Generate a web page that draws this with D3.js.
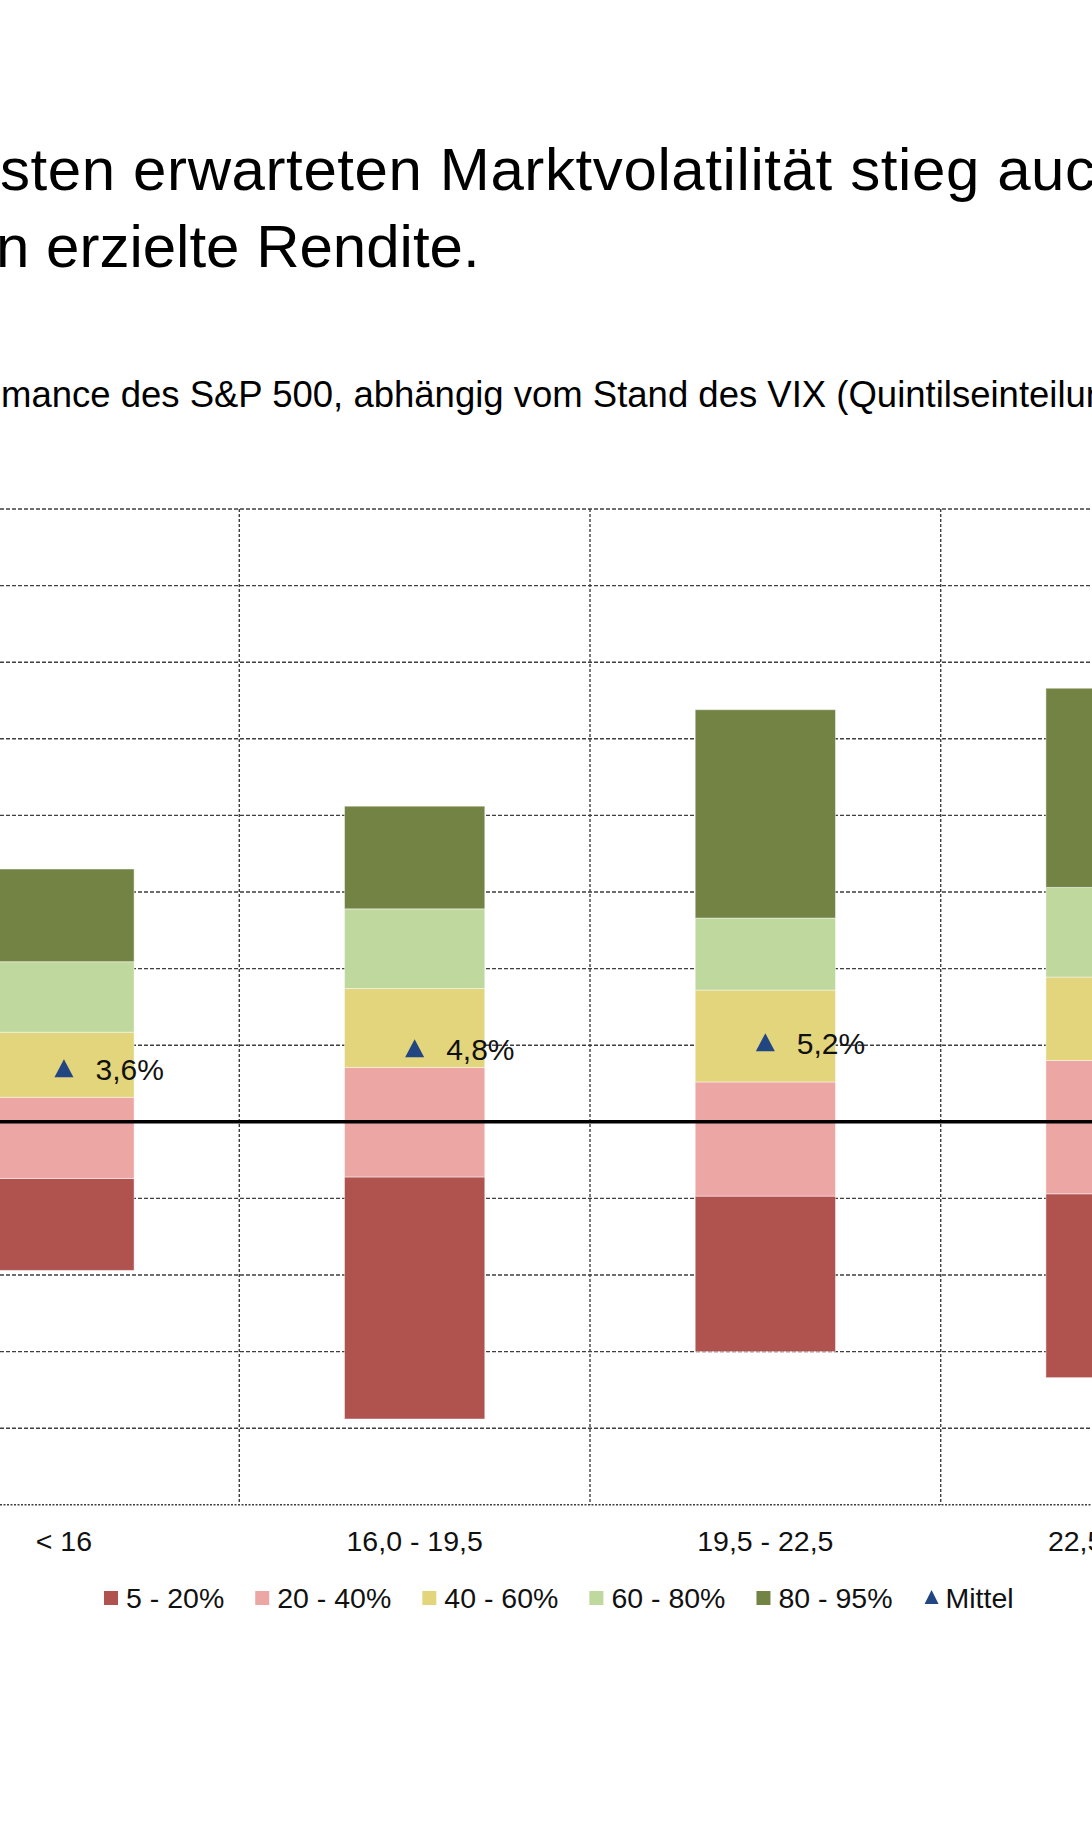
<!DOCTYPE html>
<html lang="de">
<head>
<meta charset="utf-8">
<title>S&amp;P 500 und VIX</title>
<script src="https://cdnjs.cloudflare.com/ajax/libs/d3/7.8.5/d3.min.js"></script>
<style>
  html, body { margin: 0; padding: 0; background: #fff; }
  svg { display: block; font-family: "Helvetica Neue", "Liberation Sans", Arial, sans-serif; }
</style>
</head>
<body>
<div id="chart"></div>
<script>
// VIX-Klassen (Quintile)
const categories = ["< 16", "16,0 - 19,5", "19,5 - 22,5", "22,5 - 27,0"];

// Perzentilgrenzen der Rendite in % je Klasse
const p5  = [-9.7, -19.4, -15.0, -16.7];
const p20 = [-3.7, -3.6, -4.85, -4.7];
const p40 = [1.6, 3.55, 2.6, 4.0];
const p60 = [5.85, 8.7, 8.6, 9.45];
const p80 = [10.45, 13.9, 13.3, 15.3];
const p95 = [16.5, 20.6, 26.9, 28.3];

// Mittelwert je Klasse
const means = [3.5, 4.8, 5.2, 5.9];
const meanLabels = ["3,6%", "4,8%", "5,2%", "5,9%"];

const bandLabels = ["5 - 20%", "20 - 40%", "40 - 60%", "60 - 80%", "80 - 95%"];
const bandColors = ["#B0524E", "#ECA6A3", "#E3D57C", "#BED89E", "#738344"];

const yTicks = [-25, -20, -15, -10, -5, 0, 5, 10, 15, 20, 25, 30, 35, 40];

const titleLines = ["sten erwarteten Marktvolatilität stieg auch", "n erzielte Rendite."];
const subtitle = "mance des S&P 500, abhängig vom Stand des VIX (Quintilseinteilung)";

const width = 1092, height = 1821;

const svg = d3.select("#chart").append("svg")
    .attr("width", width)
    .attr("height", height);

// Skalen (Plotbereich ragt links und rechts über den Ausschnitt hinaus)
const step = 350.7;
const x = d3.scaleBand()
    .domain(categories)
    .range([239.3 - step, 239.3 + (categories.length - 1) * step])
    .padding(0);
const barW = x.bandwidth() * 0.4;

const y = d3.scaleLinear()
    .domain([-25, 40])
    .range([1504.8, 509]);

// Titel
svg.append("g").selectAll("text")
    .data(titleLines)
    .join("text")
    .attr("x", (d, i) => i === 0 ? 0 : -4)
    .attr("y", (d, i) => 190 + i * 77)
    .attr("font-size", "60px")
    .attr("letter-spacing", (d, i) => i === 0 ? "0.6px" : "0px")
    .attr("fill", "#000")
    .text(d => d);

svg.append("text")
    .attr("x", 1)
    .attr("y", 406.5)
    .attr("font-size", "36.5px")
    .attr("fill", "#000")
    .text(subtitle);

// Horizontale Gitterlinien
svg.append("g")
    .selectAll("line")
    .data(yTicks.filter(t => t !== 0))
    .join("line")
    .attr("x1", 0)
    .attr("x2", width)
    .attr("y1", d => y(d))
    .attr("y2", d => y(d))
    .attr("stroke", "#3f3f3f")
    .attr("stroke-width", 1.4)
    .attr("stroke-dasharray", d => d === -25 ? "2,1.5" : "4,2");

// Vertikale Gitterlinien an den Klassengrenzen
svg.append("g")
    .selectAll("line")
    .data(categories.slice(1))
    .join("line")
    .attr("x1", d => x(d))
    .attr("x2", d => x(d))
    .attr("y1", y(40))
    .attr("y2", y(-25))
    .attr("stroke", "#3f3f3f")
    .attr("stroke-width", 1.4)
    .attr("stroke-dasharray", "3,2");

// Gestapelte Spannen
const bounds = [p5, p20, p40, p60, p80, p95];
const segments = [];
categories.forEach((c, i) => {
    for (let k = 0; k < bandLabels.length; k++) {
        segments.push({ cat: c, k, lo: bounds[k][i], hi: bounds[k + 1][i] });
    }
});

svg.append("g")
    .selectAll("rect")
    .data(segments)
    .join("rect")
    .attr("x", d => x(d.cat) + (x.bandwidth() - barW) / 2)
    .attr("width", barW)
    .attr("y", d => y(d.hi))
    .attr("height", d => y(d.lo) - y(d.hi))
    .attr("fill", d => bandColors[d.k])
    .attr("stroke", "rgba(255,255,255,0.45)")
    .attr("stroke-width", 1);

// Nulllinie
svg.append("line")
    .attr("x1", 0)
    .attr("x2", width)
    .attr("y1", y(0))
    .attr("y2", y(0))
    .attr("stroke", "#000")
    .attr("stroke-width", 3.5);

// Mittelwerte
const tri = "M0,-9L9.5,9L-9.5,9Z";
const meanG = svg.append("g")
    .selectAll("g")
    .data(categories)
    .join("g")
    .attr("transform", (d, i) => `translate(${x(d) + x.bandwidth() / 2},${y(means[i])})`);

meanG.append("path")
    .attr("d", tri)
    .attr("fill", "#214682");

meanG.append("text")
    .attr("x", 31.5)
    .attr("y", 12)
    .attr("font-size", "30px")
    .attr("fill", "#111")
    .text((d, i) => meanLabels[i]);

// X-Achsenbeschriftung
svg.append("g")
    .selectAll("text")
    .data(categories)
    .join("text")
    .attr("x", d => x(d) + x.bandwidth() / 2)
    .attr("y", 1551)
    .attr("text-anchor", "middle")
    .attr("font-size", "28.5px")
    .attr("fill", "#111")
    .text(d => d);

// Legende
const legendItems = bandLabels.map((l, k) => ({ label: l, color: bandColors[k], type: "rect" }))
    .concat([{ label: "Mittel", color: "#214682", type: "tri" }]);

let cx = 104;
const legend = svg.append("g");
legendItems.forEach(item => {
    if (item.type === "rect") {
        legend.append("rect")
            .attr("x", cx)
            .attr("y", 1591)
            .attr("width", 14)
            .attr("height", 14)
            .attr("fill", item.color);
    } else {
        legend.append("path")
            .attr("d", "M0,-7L7,7L-7,7Z")
            .attr("transform", `translate(${cx + 8},1597)`)
            .attr("fill", item.color);
    }
    const t = legend.append("text")
        .attr("x", cx + 22)
        .attr("y", 1608)
        .attr("font-size", "28.5px")
        .attr("fill", "#111")
        .text(item.label);
    cx += 22 + t.node().getComputedTextLength() + 31;
});
</script>
</body>
</html>
